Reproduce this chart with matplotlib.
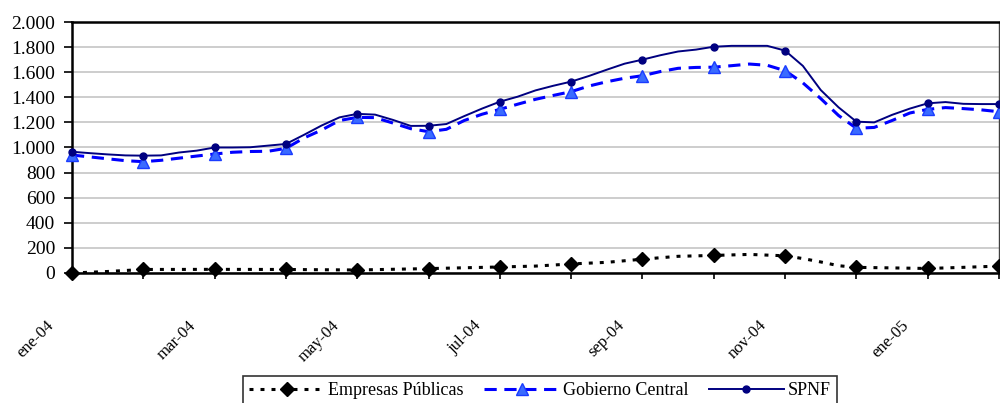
import numpy as np
import matplotlib
matplotlib.use("Agg")
import matplotlib.pyplot as plt
from matplotlib.ticker import FuncFormatter, FixedLocator
from matplotlib.transforms import ScaledTranslation

plt.rcParams['font.family'] = ['Liberation Serif', 'DejaVu Serif']

# meses (0 = ene-04 ... 13 = feb-05)
meses = ['ene-04', 'feb-04', 'mar-04', 'abr-04', 'may-04', 'jun-04', 'jul-04',
         'ago-04', 'sep-04', 'oct-04', 'nov-04', 'dic-04', 'ene-05', 'feb-05']

# datos semanales (posicion en meses)
t_sem = np.arange(0, 13.01, 0.25)

spnf = [966, 955, 945, 937, 935, 937, 960, 975, 1000, 1000, 1002, 1015, 1028,
        1100, 1175, 1240, 1268, 1262, 1220, 1172, 1173, 1187, 1250, 1310, 1365,
        1405, 1455, 1492, 1525, 1570, 1620, 1668, 1700, 1735, 1765, 1780, 1803,
        1810, 1810, 1810, 1772, 1650, 1458, 1320, 1206, 1200, 1260, 1310, 1352,
        1362, 1348, 1346, 1346]

gob_central = [940, 925, 910, 895, 887, 898, 915, 932, 948, 962, 968, 970, 993,
               1075, 1139, 1215, 1240, 1238, 1195, 1150, 1126, 1145, 1215, 1265,
               1304, 1345, 1384, 1415, 1445, 1490, 1524, 1552, 1572, 1605, 1631,
               1638, 1640, 1652, 1665, 1655, 1612, 1515, 1390, 1255, 1153, 1160,
               1215, 1275, 1304, 1318, 1310, 1300, 1285]

t_emp = [0, 0.5, 1, 2, 3, 4, 5, 6, 6.5, 7, 7.5, 8, 8.5, 9, 9.5, 10, 10.25,
         10.5, 10.75, 11, 12, 12.5, 13]
emp_publicas = [0, 12, 28, 29, 28, 24, 35, 48, 55, 72, 85, 110, 133, 140, 148,
                137, 115, 88, 58, 45, 36, 45, 55]

mk_sem = [float(x).is_integer() for x in t_sem]
mk_emp = [float(x).is_integer() for x in t_emp]

fig = plt.figure(figsize=(10, 4.03), dpi=100)
ax = fig.add_axes([0.072, 0.3226, 0.927, 0.6228])

ax.plot(t_emp, emp_publicas, color='black', lw=2.2, dashes=(1.3, 2.3),
        marker='D', markersize=7, markevery=mk_emp, label='Empresas Públicas',
        zorder=3, clip_on=False)
ax.plot(t_sem, gob_central, color='#0000FF', lw=2.2, dashes=(4, 2.5),
        marker='^', markersize=9, markerfacecolor='#3A6BFF',
        markeredgecolor='#1a3cff', markevery=mk_sem, label='Gobierno Central',
        zorder=4, clip_on=False)
ax.plot(t_sem, spnf, color='#000080', lw=1.4, marker='o', markersize=5,
        markevery=mk_sem, label='SPNF', zorder=5, clip_on=False)

ax.set_xlim(0, 13)
ax.set_ylim(0, 2000)
ax.yaxis.set_major_locator(FixedLocator(range(0, 2001, 200)))
ax.yaxis.set_major_formatter(FuncFormatter(lambda v, p: f"{v:,.0f}".replace(",", ".")))
ax.grid(axis='y', color='#c0c0c0', lw=1.1)
ax.set_axisbelow(True)

ax.set_xticks(range(len(meses)))
ax.set_xticklabels([m if i % 2 == 0 else '' for i, m in enumerate(meses)],
                   rotation=45, ha='right')
ax.tick_params(axis='x', length=4, width=1.2, pad=28, labelsize=12)
ax.tick_params(axis='y', length=6, width=1.2, pad=6, labelsize=14)
for lab in ax.get_xticklabels():
    lab.set_transform(lab.get_transform() + ScaledTranslation(-0.15, 0, fig.dpi_scale_trans))

for s in ['left', 'bottom', 'top']:
    ax.spines[s].set_linewidth(1.8)
    ax.spines[s].set_color('black')
ax.spines['right'].set_linewidth(1.0)
ax.spines['right'].set_color('#404040')

leg = fig.legend(loc='upper center', bbox_to_anchor=(0.54, 0.067), ncol=3,
                 fontsize=13, frameon=True, fancybox=False, edgecolor='black',
                 handlelength=4.2, handletextpad=0.2, columnspacing=1.1,
                 borderpad=0.35, borderaxespad=0)
leg.get_frame().set_linewidth(1.2)

fig.savefig('out.png', dpi=100)
